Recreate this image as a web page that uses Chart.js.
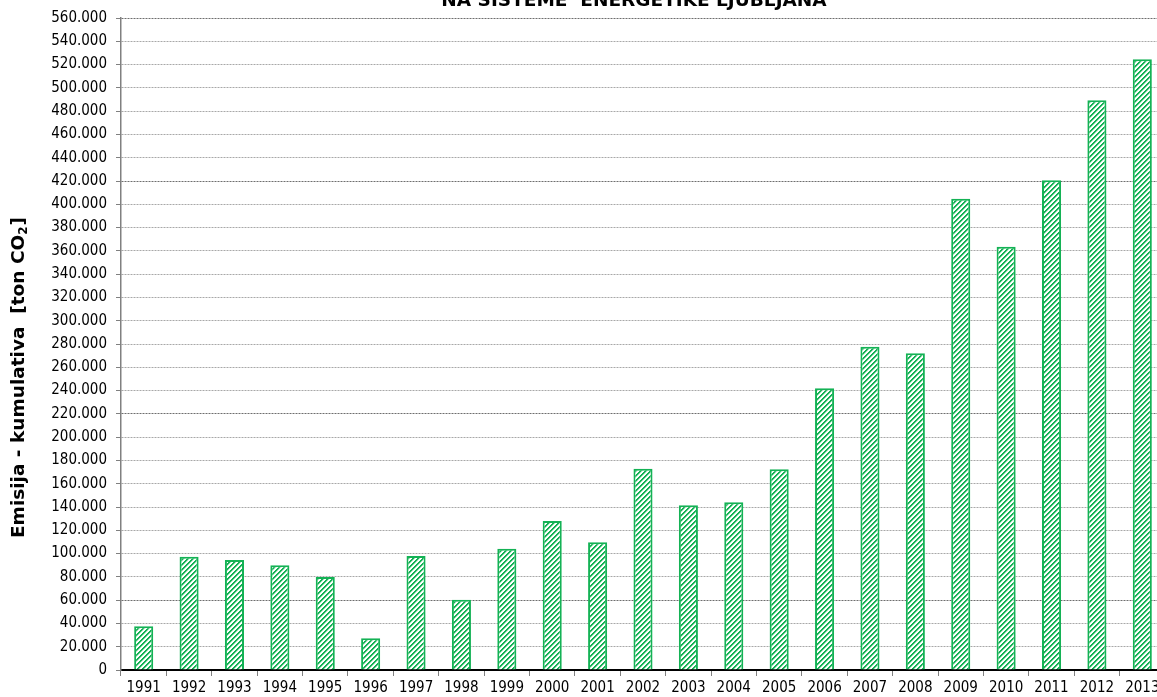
<!DOCTYPE html>
<html><head><meta charset="utf-8">
<script src="https://cdn.jsdelivr.net/npm/chart.js@4"></script>
<style>
html,body{margin:0;padding:0;background:#fff;overflow:hidden;width:1157px;height:697px;}
#wrap{position:absolute;left:0;top:-10px;width:1268px;height:707px;}
</style></head><body>
<div id="wrap"><canvas id="c" width="1268" height="707"></canvas></div>
<script>
const categories = ['1991','1992','1993','1994','1995','1996','1997','1998','1999','2000','2001','2002','2003','2004','2005','2006','2007','2008','2009','2010','2011','2012','2013'];
const emissions = [37500, 97300, 94500, 89900, 79900, 27200, 97900, 60400, 104200, 128000, 109700, 172900, 141400, 144000, 172400, 242000, 277700, 272000, 404800, 363600, 420600, 489300, 524500];
const chartTitle = 'NA SISTEME  ENERGETIKE LJUBLJANA';
const yAxisTitleParts = ['Emisija - kumulativa  [ton CO', '2', ']'];
const yMin = 0, yMax = 560000, yStep = 20000;
const darkGridValues = [60000, 220000, 420000, 560000];

function fmt(v){
  if (v === 0) return '0';
  return String(Math.round(v)).replace(/\B(?=(\d{3})+(?!\d))/g, '.');
}
function makeHatch(){
  const n = 5;
  const c = document.createElement('canvas'); c.width = n; c.height = n;
  const x = c.getContext('2d'); const img = x.createImageData(n,n);
  for (let j=0;j<n;j++) for (let i=0;i<n;i++){
    const k=(j*n+i)*4; const m=(i+j)%n;
    let col = m<2 ? [20,178,85] : (m===2 ? [170,225,190] : [255,255,255]);
    img.data[k]=col[0]; img.data[k+1]=col[1]; img.data[k+2]=col[2]; img.data[k+3]=255;
  }
  x.putImageData(img,0,0);
  return x.createPattern(c,'repeat');
}
const FONT = "'DejaVu Sans Condensed','DejaVu Sans',sans-serif";
const BOLDFONT = "'DejaVu Sans',sans-serif";

const layoutTweaks = {
  id: 'layoutTweaks',
  afterLayout(chart){
    const t = chart.titleBlock;
    if (t){ t.left = 0; t.right = chart.width; t.width = chart.width; }
  },
  afterDraw(chart){
    const ctx = chart.ctx, a = chart.chartArea;
    const cy = (a.top + a.bottom)/2 + 34, cx = 19;
    ctx.save();
    ctx.translate(cx, cy); ctx.rotate(-Math.PI/2);
    ctx.fillStyle = '#000'; ctx.textBaseline = 'middle'; ctx.textAlign = 'left';
    const big = 'bold 18.5px ' + BOLDFONT, small = 'bold 12px ' + BOLDFONT;
    ctx.font = big; const w1 = ctx.measureText(yAxisTitleParts[0]).width, w3 = ctx.measureText(yAxisTitleParts[2]).width;
    ctx.font = small; const w2 = ctx.measureText(yAxisTitleParts[1]).width;
    let x0 = -(w1+w2+w3)/2;
    ctx.font = big; ctx.fillText(yAxisTitleParts[0], x0, 0);
    ctx.font = small; ctx.fillText(yAxisTitleParts[1], x0 + w1, 5);
    ctx.font = big; ctx.fillText(yAxisTitleParts[2], x0 + w1 + w2 + 1, 0);
    ctx.restore();
  }
};

new Chart(document.getElementById('c'), {
  type: 'bar',
  data: {
    labels: categories,
    datasets: [{
      data: emissions,
      backgroundColor: makeHatch(),
      borderColor: 'rgb(20,178,85)',
      borderWidth: 2,
      barPercentage: 0.42,
      categoryPercentage: 1.0
    }]
  },
  plugins: [layoutTweaks],
  options: {
    responsive: false,
    animation: false,
    devicePixelRatio: 1,
    layout: { padding: { left: 0, right: 103, top: 0, bottom: 0 } },
    plugins: {
      legend: { display: false },
      tooltip: { enabled: false },
      title: {
        display: true, text: chartTitle, color: '#000',
        font: { family: BOLDFONT, size: 18.5, weight: 'bold' },
        padding: { top: 0, bottom: 5.8 }
      }
    },
    scales: {
      x: {
        afterFit: s => { s.height = 27; },
        grid: { offset: true, drawOnChartArea: false, drawTicks: true, tickLength: 6, tickColor: '#808080', tickWidth: 1 },
        border: { display: true, color: '#000', width: 2 },
        ticks: { color: '#000', font: { family: FONT, size: 15 }, padding: 3, maxRotation: 0, autoSkip: false }
      },
      y: {
        min: yMin, max: yMax,
        afterFit: s => { s.width = 121; },
        grid: {
          color: c => darkGridValues.includes(c.tick && c.tick.value) ? '#6e6e6e' : '#a8a8a8',
          lineWidth: 1, drawTicks: true, tickLength: 5, tickColor: '#808080', tickBorderDash: []
        },
        border: { display: true, color: '#808080', width: 1.5, dash: [2,1] },
        ticks: { stepSize: yStep, autoSkip: false, color: '#000', font: { family: FONT, size: 15 }, padding: 9, callback: v => fmt(v) },
        title: { display: false }
      }
    }
  }
});
</script>
</body></html>
